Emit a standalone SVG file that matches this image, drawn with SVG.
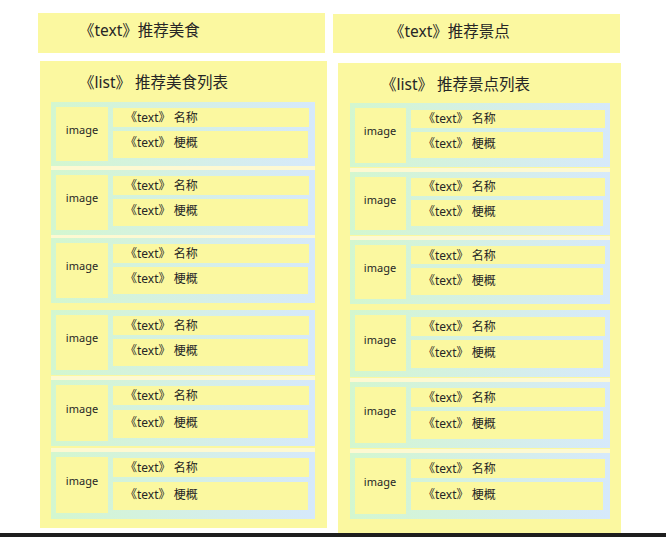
<svg xmlns="http://www.w3.org/2000/svg" width="666" height="537" viewBox="0 0 666 537">
<defs>
<linearGradient id="g" x1="0" y1="0" x2="1" y2="0">
<stop offset="0" stop-color="#d3f7cf"/>
<stop offset="1" stop-color="#d6e9fb"/>
</linearGradient>
<style>
.y{fill:#fbf8a0}
.it{fill:url(#g)}
.cr{fill:#fdf9d2}
text{font-family:"Noto Sans","Noto Sans CJK SC",sans-serif;fill:#262626}
.h{font-size:15.5px}
.s{font-size:12px}
.im{font-size:11px;text-anchor:middle}
</style>
</defs>
<rect width="666" height="537" fill="#ffffff"/>
<g id="food-title"><rect class="y" x="38" y="13" width="287" height="40"/><text class="h" x="79" y="36">《text》推荐美食</text></g>
<g id="spot-title"><rect class="y" x="333" y="14" width="287" height="39"/><text class="h" x="389" y="37">《text》推荐景点</text></g>
<g id="food-list"><rect class="y" x="40" y="61" width="287" height="467"/><text class="h" x="79" y="88">《list》 推荐美食列表</text></g>
<g id="spot-list"><rect class="y" x="338" y="63" width="283" height="470"/><text class="h" x="381" y="90">《list》 推荐景点列表</text></g>
<g id="separators">
<rect class="cr" x="51" y="166" width="264" height="4"/>
<rect class="cr" x="51" y="235" width="264" height="3"/>
<rect class="cr" x="51" y="376" width="264" height="4"/>
<rect class="cr" x="51" y="448" width="264" height="4"/>
<rect class="cr" x="350" y="168" width="260" height="4"/>
<rect class="cr" x="350" y="236" width="260" height="4"/>
<rect class="cr" x="350" y="378" width="260" height="4"/>
<rect class="cr" x="350" y="449" width="260" height="4"/>
</g>
<g id="food-item-1" transform="translate(51,102)"><rect class="it" width="264" height="64"/><rect class="y" x="5" y="5" width="52" height="54"/><text class="im" x="31" y="32">image</text><rect class="y" x="62" y="6" width="196" height="19"/><text class="s" x="74" y="20">《text》 名称</text><rect class="y" x="62" y="29" width="195" height="27"/><text class="s" x="74" y="45">《text》 梗概</text></g>
<g id="food-item-2" transform="translate(51,170)"><rect class="it" width="264" height="65"/><rect class="y" x="5" y="5" width="52" height="55"/><text class="im" x="31" y="32">image</text><rect class="y" x="62" y="6" width="196" height="19"/><text class="s" x="74" y="20">《text》 名称</text><rect class="y" x="62" y="29" width="195" height="27"/><text class="s" x="74" y="45">《text》 梗概</text></g>
<g id="food-item-3" transform="translate(51,238)"><rect class="it" width="264" height="65"/><rect class="y" x="5" y="5" width="52" height="55"/><text class="im" x="31" y="32">image</text><rect class="y" x="62" y="6" width="196" height="19"/><text class="s" x="74" y="20">《text》 名称</text><rect class="y" x="62" y="29" width="195" height="27"/><text class="s" x="74" y="45">《text》 梗概</text></g>
<g id="food-item-4" transform="translate(51,310)"><rect class="it" width="264" height="65"/><rect class="y" x="5" y="5" width="52" height="55"/><text class="im" x="31" y="32">image</text><rect class="y" x="62" y="6" width="196" height="19"/><text class="s" x="74" y="20">《text》 名称</text><rect class="y" x="62" y="29" width="195" height="27"/><text class="s" x="74" y="45">《text》 梗概</text></g>
<g id="food-item-5" transform="translate(51,380)"><rect class="it" width="264" height="66"/><rect class="y" x="5" y="5" width="52" height="56"/><text class="im" x="31" y="33">image</text><rect class="y" x="62" y="6" width="196" height="19"/><text class="s" x="74" y="20">《text》 名称</text><rect class="y" x="62" y="30" width="195" height="28"/><text class="s" x="74" y="47">《text》 梗概</text></g>
<g id="food-item-6" transform="translate(51,452)"><rect class="it" width="264" height="67"/><rect class="y" x="5" y="5" width="52" height="56"/><text class="im" x="31" y="33">image</text><rect class="y" x="62" y="6" width="196" height="19"/><text class="s" x="74" y="20">《text》 名称</text><rect class="y" x="62" y="30" width="195" height="28"/><text class="s" x="74" y="47">《text》 梗概</text></g>
<g id="spot-item-1" transform="translate(350,103)"><rect class="it" width="260" height="64"/><rect class="y" x="5" y="5" width="51" height="55"/><text class="im" x="30" y="32">image</text><rect class="y" x="61" y="7" width="194" height="18"/><text class="s" x="73" y="20">《text》 名称</text><rect class="y" x="61" y="29" width="192" height="26"/><text class="s" x="73" y="45">《text》 梗概</text></g>
<g id="spot-item-2" transform="translate(350,172)"><rect class="it" width="260" height="63"/><rect class="y" x="5" y="5" width="51" height="53"/><text class="im" x="30" y="32">image</text><rect class="y" x="61" y="6" width="194" height="18"/><text class="s" x="73" y="19">《text》 名称</text><rect class="y" x="61" y="28" width="192" height="26"/><text class="s" x="73" y="44">《text》 梗概</text></g>
<g id="spot-item-3" transform="translate(350,240)"><rect class="it" width="260" height="64"/><rect class="y" x="5" y="5" width="51" height="54"/><text class="im" x="30" y="32">image</text><rect class="y" x="61" y="6" width="194" height="18"/><text class="s" x="73" y="20">《text》 名称</text><rect class="y" x="61" y="28" width="192" height="27"/><text class="s" x="73" y="45">《text》 梗概</text></g>
<g id="spot-item-4" transform="translate(350,310)"><rect class="it" width="260" height="67"/><rect class="y" x="5" y="5" width="51" height="56"/><text class="im" x="30" y="34">image</text><rect class="y" x="61" y="7" width="194" height="19"/><text class="s" x="73" y="21">《text》 名称</text><rect class="y" x="61" y="30" width="192" height="28"/><text class="s" x="73" y="47">《text》 梗概</text></g>
<g id="spot-item-5" transform="translate(350,382)"><rect class="it" width="260" height="66"/><rect class="y" x="5" y="5" width="51" height="56"/><text class="im" x="30" y="33">image</text><rect class="y" x="61" y="6" width="194" height="19"/><text class="s" x="73" y="20">《text》 名称</text><rect class="y" x="61" y="29" width="192" height="28"/><text class="s" x="73" y="46">《text》 梗概</text></g>
<g id="spot-item-6" transform="translate(350,453)"><rect class="it" width="260" height="66"/><rect class="y" x="5" y="5" width="51" height="56"/><text class="im" x="30" y="33">image</text><rect class="y" x="61" y="6" width="194" height="19"/><text class="s" x="73" y="20">《text》 名称</text><rect class="y" x="61" y="29" width="192" height="28"/><text class="s" x="73" y="46">《text》 梗概</text></g>
<g id="connectors"/>
<rect id="bottom-bar" x="0" y="533" width="666" height="4" fill="#1e1e1e"/>
</svg>
